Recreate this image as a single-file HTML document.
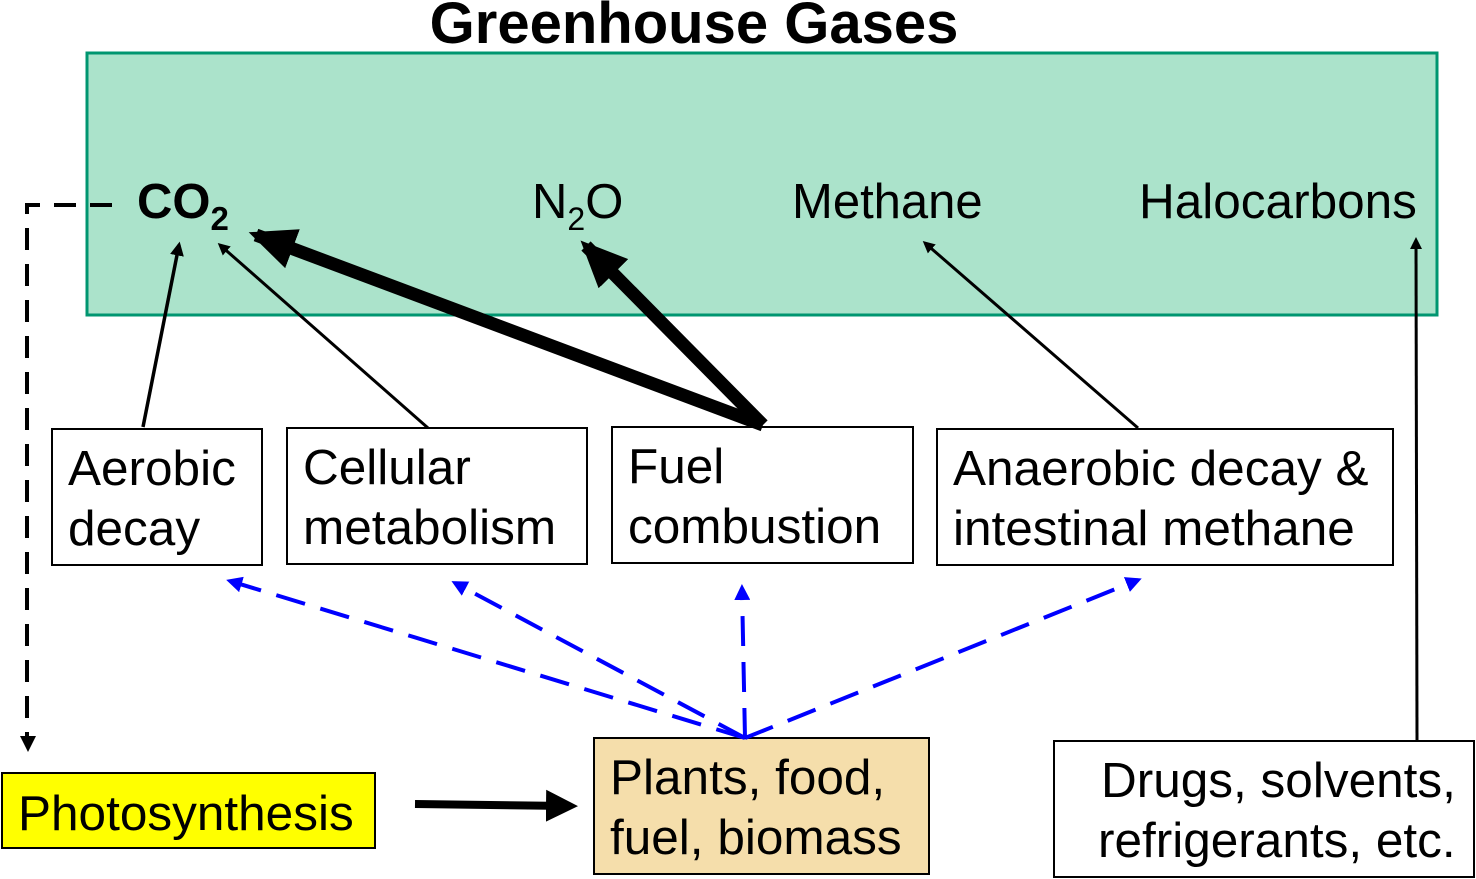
<!DOCTYPE html>
<html><head><style>body{margin:0;background:#fff}svg{display:block}text{font-family:"Liberation Sans",Arial,sans-serif;fill:#000}</style></head>
<body>
<svg width="1476" height="879" viewBox="0 0 1476 879" xmlns="http://www.w3.org/2000/svg">
<defs>
<marker id="a" markerWidth="3.6" markerHeight="3.2" refX="3" refY="1.6" orient="auto" markerUnits="strokeWidth"><path d="M0,0L3.6,1.6L0,3.2z" fill="#000"/></marker>
<marker id="t" markerWidth="4" markerHeight="4" refX="3" refY="2" orient="auto" markerUnits="strokeWidth"><path d="M0,0L4,2L0,4z" fill="#000"/></marker>
<marker id="b" markerWidth="4" markerHeight="4" refX="3" refY="2" orient="auto" markerUnits="strokeWidth"><path d="M0,0L4,2L0,4z" fill="#00f"/></marker>
</defs>
<text x="694" y="43" font-size="58" font-weight="bold" text-anchor="middle">Greenhouse Gases</text>
<rect x="87" y="53" width="1350" height="262" fill="#ABE3CB" stroke="#009670" stroke-width="3"/>
<text x="137" y="218" font-size="49" font-weight="bold">CO<tspan font-size="33" dy="12">2</tspan></text>
<text x="532" y="218" font-size="49">N<tspan font-size="32" dy="12">2</tspan><tspan dy="-12">O</tspan></text>
<text x="792" y="218" font-size="49">Methane</text>
<text x="1139" y="218" font-size="49.5">Halocarbons</text>
<g fill="#fff" stroke="#000" stroke-width="2">
<rect x="52" y="429" width="210" height="136"/>
<rect x="287" y="428" width="300" height="136"/>
<rect x="612" y="427" width="301" height="136"/>
<rect x="937" y="429" width="456" height="136"/>
<rect x="594" y="738" width="335" height="136" fill="#F5DEAB"/>
<rect x="1054" y="741" width="420" height="136"/>
<rect x="2" y="773" width="373" height="75" fill="#FFFF00"/>
</g>
<g font-size="49.5">
<text x="68" y="485">Aerobic</text><text x="68" y="545">decay</text>
<text x="303" y="484">Cellular</text><text x="303" y="544">metabolism</text>
<text x="628" y="483">Fuel</text><text x="628" y="543">combustion</text>
<text x="953" y="485">Anaerobic decay &amp;</text><text x="953" y="545">intestinal methane</text>
<text x="610" y="794">Plants, food,</text><text x="610" y="854">fuel, biomass</text>
<text x="1101" y="797">Drugs, solvents,</text><text x="1098" y="857">refrigerants, etc.</text>
<text x="18" y="830">Photosynthesis</text>
</g>
<g stroke="#000" fill="none">
<line x1="143" y1="427" x2="179" y2="245" stroke-width="3.5" marker-end="url(#t)"/>
<line x1="428" y1="428" x2="220" y2="245" stroke-width="3" marker-end="url(#t)"/>
<line x1="1138" y1="428" x2="925" y2="243" stroke-width="3" marker-end="url(#t)"/>
<line x1="1417" y1="740" x2="1416" y2="240" stroke-width="3" marker-end="url(#t)"/>
<line x1="763" y1="425" x2="256" y2="235" stroke-width="13" marker-end="url(#a)"/>
<line x1="763" y1="425" x2="586" y2="246" stroke-width="13" marker-end="url(#a)"/>
<line x1="415" y1="804" x2="570" y2="806" stroke-width="8" marker-end="url(#t)"/>
<path d="M112,205H27V738" stroke-width="4" stroke-dasharray="22,14"/>
<path d="M20,736L28,752L36,736z" fill="#000" stroke="none"/>
</g>
<g stroke="#00f" stroke-width="4" stroke-dasharray="30,16" fill="none">
<line x1="745" y1="738" x2="230" y2="581" marker-end="url(#b)"/>
<line x1="745" y1="738" x2="455" y2="583" marker-end="url(#b)"/>
<line x1="745" y1="738" x2="742" y2="588" marker-end="url(#b)"/>
<line x1="745" y1="738" x2="1138" y2="580" marker-end="url(#b)"/>
</g>
</svg>
</body></html>
